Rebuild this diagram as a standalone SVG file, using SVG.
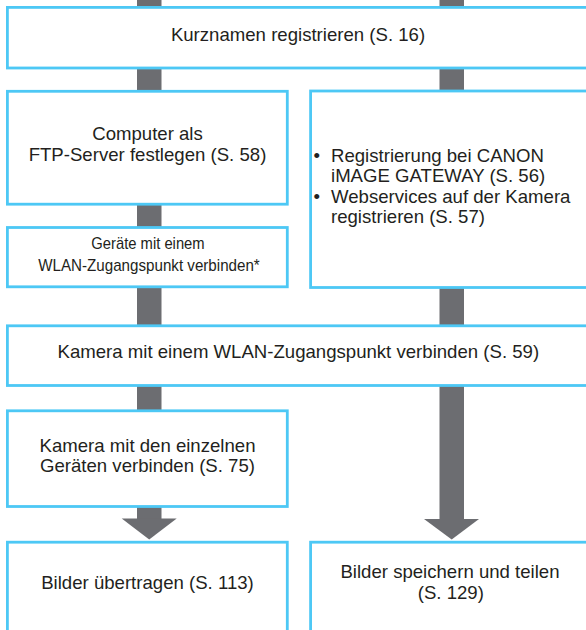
<svg xmlns="http://www.w3.org/2000/svg" width="586" height="630" viewBox="0 0 586 630">
<style>
.box{fill:#fff;stroke:#4dc8f5;stroke-width:2.8}
.bar{fill:#6c6d71}
text{font-family:"Liberation Sans",Arial,sans-serif;font-size:18.6px;fill:#231f20}
.c{text-anchor:middle}
.s{font-size:17px}
</style>
<rect width="586" height="630" fill="#fff"/>
<g id="connectors">
<rect class="bar" x="137" y="0" width="24.5" height="519"/>
<polygon class="bar" points="121.7,518.5 176.7,518.5 149.2,539.5"/>
<rect class="bar" x="439.5" y="0" width="24.5" height="519.5"/>
<polygon class="bar" points="424,519 479,519 451.7,539.5"/>
</g>
<g id="kurznamen">
<rect class="box" x="7.4" y="7.4" width="583" height="60.6"/>
<text class="c" x="298" y="40.7">Kurznamen registrieren (S. 16)</text>
</g>
<g id="computer">
<rect class="box" x="7.4" y="91.3" width="279.9" height="112.9"/>
<text class="c" x="147.5" y="140">Computer als</text>
<text class="c" x="147.5" y="161">FTP-Server festlegen (S. 58)</text>
</g>
<g id="registrierung">
<rect class="box" x="310.6" y="91" width="280" height="196.5"/>
<text x="313.5" y="161.5">•</text>
<text x="331" y="161.5">Registrierung bei CANON</text>
<text x="331" y="181.5">iMAGE GATEWAY (S. 56)</text>
<text x="313.5" y="203">•</text>
<text x="331" y="203">Webservices auf der Kamera</text>
<text x="331" y="223.3">registrieren (S. 57)</text>
</g>
<g id="geraete">
<rect class="box" x="7.4" y="227.5" width="279.9" height="59.3"/>
<text class="c s" x="148" y="249" textLength="113.3" lengthAdjust="spacingAndGlyphs">Geräte mit einem</text>
<text class="c s" x="149" y="271" textLength="221.5" lengthAdjust="spacingAndGlyphs">WLAN-Zugangspunkt verbinden*</text>
</g>
<g id="kamera-wlan">
<rect class="box" x="7.4" y="325.8" width="583" height="59.7"/>
<text class="c" x="298.3" y="357.7">Kamera mit einem WLAN-Zugangspunkt verbinden (S. 59)</text>
</g>
<g id="kamera-geraete">
<rect class="box" x="7.4" y="410.8" width="279.9" height="95.7"/>
<text class="c" x="147.5" y="451.7">Kamera mit den einzelnen</text>
<text class="c" x="147.5" y="472.3">Geräten verbinden (S. 75)</text>
</g>
<g id="bilder-uebertragen">
<rect class="box" x="7.4" y="542.2" width="279.9" height="100"/>
<text class="c" x="147.5" y="589.3">Bilder übertragen (S. 113)</text>
</g>
<g id="bilder-speichern">
<rect class="box" x="310.6" y="542.2" width="280" height="100"/>
<text class="c" x="450" y="578.3">Bilder speichern und teilen</text>
<text class="c" x="450.8" y="599.3">(S. 129)</text>
</g>
</svg>
